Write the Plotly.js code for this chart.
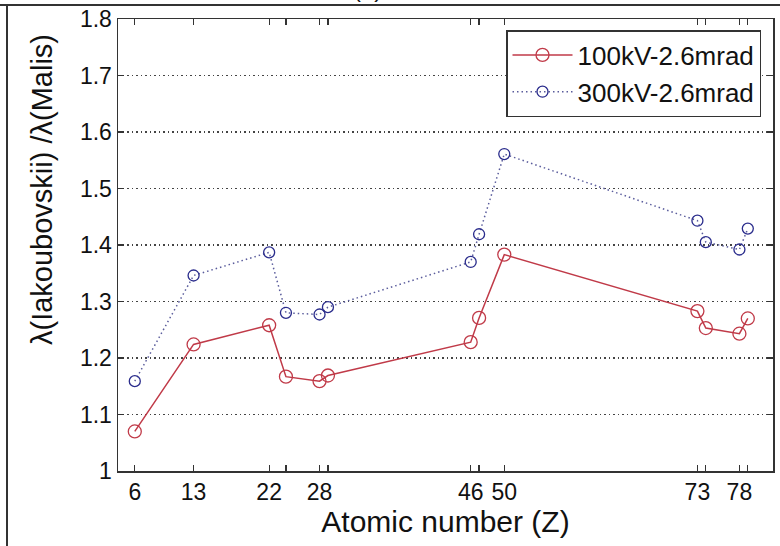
<!DOCTYPE html>
<html>
<head>
<meta charset="utf-8">
<script src="https://cdn.plot.ly/plotly-3.0.1.min.js"></script>
<style>html,body{margin:0;padding:0;background:#fff;}#chart{width:780px;height:546px;}</style>
</head>
<body>
<div id="chart"></div>
<script>
// Atomic numbers (Z)
var atomicNumbers = [6, 13, 22, 24, 28, 29, 46, 47, 50, 73, 74, 78, 79];
// Tick labels shown on x axis (blank for unlabeled ticks)
var tickLabels = ["6", "13", "22", "", "28", "", "46", "", "50", "73", "", "78", ""];
// Ratio λ(Iakoubovskii)/λ(Malis)
var ratio100kV = [1.07, 1.224, 1.258, 1.167, 1.159, 1.169, 1.228, 1.271, 1.383, 1.283, 1.253, 1.243, 1.270];
var ratio300kV = [1.159, 1.346, 1.387, 1.280, 1.277, 1.290, 1.370, 1.419, 1.561, 1.443, 1.405, 1.392, 1.429];
var yTicks = [1, 1.1, 1.2, 1.3, 1.4, 1.5, 1.6, 1.7, 1.8];
var yTickText = ["1", "1.1", "1.2", "1.3", "1.4", "1.5", "1.6", "1.7", "1.8"];

var red = '#c03a48';
var blue = '#2a2c8c';

var traces = [
  {
    x: atomicNumbers, y: ratio100kV, name: '100kV-2.6mrad',
    mode: 'lines+markers', type: 'scatter',
    line: {color: red, width: 1.5},
    marker: {symbol: 'circle-open', size: 13, color: red, line: {width: 1.3, color: red}}
  },
  {
    x: atomicNumbers, y: ratio300kV, name: '300kV-2.6mrad',
    mode: 'lines+markers', type: 'scatter',
    line: {color: '#5a5c9c', width: 1.5, dash: '1.5px,3px'},
    marker: {symbol: 'circle-open', size: 11, color: blue, line: {width: 1.3, color: blue}}
  }
];

var font = 'Liberation Sans, Arial, sans-serif';
var L = 118, R = 7, T = 19, B = 75;
var W = 780 - L - R, H = 546 - T - B;

var layout = {
  width: 780, height: 546,
  margin: {l: L, r: R, t: T, b: B, pad: 0},
  paper_bgcolor: '#fff', plot_bgcolor: '#fff',
  font: {family: font, color: '#111'},
  showlegend: true,
  legend: {
    x: 1 - 12 / W, xanchor: 'right', y: 1 - 11 / H, yanchor: 'top',
    bgcolor: '#fff', bordercolor: '#333', borderwidth: 1.5,
    font: {family: font, size: 26, color: '#111'},
    itemwidth: 60, tracegroupgap: 0
  },
  xaxis: {
    range: [4, 82], tickmode: 'array', tickvals: atomicNumbers, ticktext: tickLabels,
    ticks: 'inside', ticklen: 6, tickcolor: '#333', tickwidth: 1.2,
    showline: true, linecolor: '#333', linewidth: 1.5, mirror: 'ticks',
    showgrid: false, zeroline: false,
    tickfont: {family: font, size: 23, color: '#111'},
    title: {text: 'Atomic number (Z)', font: {family: font, size: 30, color: '#111'}, standoff: 2}
  },
  yaxis: {
    range: [1, 1.8], tickmode: 'array', tickvals: yTicks, ticktext: yTickText,
    ticks: 'inside', ticklen: 6, tickcolor: '#333', tickwidth: 1.2,
    showline: true, linecolor: '#333', linewidth: 1.5, mirror: 'ticks',
    showgrid: true, gridcolor: '#444', griddash: '1.5px,3px', gridwidth: 1.2,
    zeroline: false,
    tickfont: {family: font, size: 23, color: '#111'}
  },
  shapes: [
    {type: 'line', xref: 'paper', yref: 'paper', x0: -L / W, x1: 1 + R / W, y0: 1 + (T - 5) / H, y1: 1 + (T - 5) / H,
     line: {color: '#333', width: 2}},
    {type: 'line', xref: 'paper', yref: 'paper', x0: -(L - 7) / W, x1: -(L - 7) / W, y0: -B / H, y1: 1 + (T - 5) / H,
     line: {color: '#333', width: 2}}
  ],
  annotations: [
    {text: 'λ(Iakoubovskii) /λ(Malis)', xref: 'paper', yref: 'paper',
     x: (42 - L) / W, y: (471 - 190) / H, xanchor: 'center', yanchor: 'middle',
     textangle: -90, showarrow: false,
     font: {family: font, size: 29, color: '#111'}},
    {text: '(a)', xref: 'paper', yref: 'paper', x: (367 - L) / W, y: 1 + (T - 4) / H,
     xanchor: 'center', yanchor: 'bottom', showarrow: false,
     font: {family: font, size: 24, color: '#111'}}
  ]
};

Plotly.newPlot('chart', traces, layout, {displayModeBar: false, staticPlot: true});
</script>
</body>
</html>
